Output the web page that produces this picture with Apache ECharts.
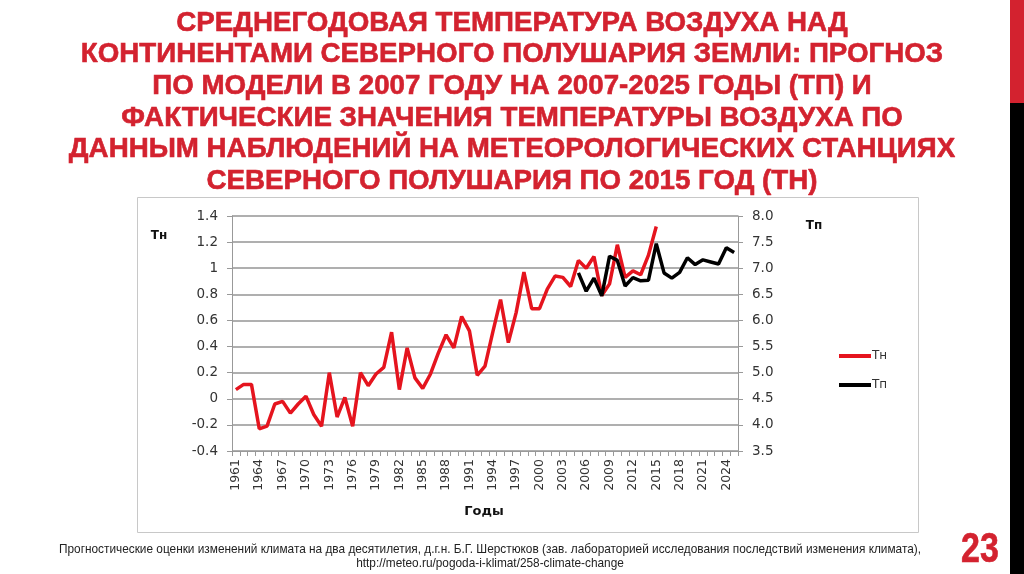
<!DOCTYPE html>
<html>
<head>
<meta charset="utf-8">
<script src="https://cdn.jsdelivr.net/npm/echarts@6/dist/echarts.min.js"></script>
<style>
html,body{margin:0;padding:0;background:#fff;}
#chart{width:1024px;height:574px;}
</style>
</head>
<body>
<div id="chart"></div>
<script>
// ---- data ----
const years = [];
for (let y = 1961; y <= 2025; y++) years.push(String(y));

const tnValues = [
  0.07, 0.11, 0.11, -0.23, -0.21, -0.04, -0.02, -0.11, -0.04, 0.02,
  -0.12, -0.21, 0.20, -0.14, 0.01, -0.21, 0.20, 0.10, 0.19, 0.24,
  0.51, 0.07, 0.39, 0.16, 0.08, 0.19, 0.35, 0.49, 0.39, 0.63,
  0.52, 0.18, 0.25, 0.51, 0.76, 0.43, 0.66, 0.97, 0.69, 0.69,
  0.84, 0.94, 0.93, 0.86, 1.06, 1.00, 1.09, 0.79, 0.88, 1.18,
  0.93, 0.98, 0.95, 1.10, 1.32
];

const tpStartYear = 2005;
const tpValues = [
  6.91, 6.56, 6.81, 6.47, 7.23, 7.15, 6.66, 6.82, 6.76, 6.77,
  7.47, 6.91, 6.81, 6.92, 7.20, 7.07, 7.16, 7.12, 7.08, 7.39, 7.30
];

const leftTicks = { min: -0.4, max: 1.4, step: 0.2 };
const rightTicks = { min: 3.5, max: 8.0, step: 0.5 };

const titleLines = [
  'СРЕДНЕГОДОВАЯ ТЕМПЕРАТУРА ВОЗДУХА НАД',
  'КОНТИНЕНТАМИ СЕВЕРНОГО ПОЛУШАРИЯ ЗЕМЛИ: ПРОГНОЗ',
  'ПО МОДЕЛИ В 2007 ГОДУ НА 2007-2025 ГОДЫ (ТП) И',
  'ФАКТИЧЕСКИЕ ЗНАЧЕНИЯ ТЕМПЕРАТУРЫ ВОЗДУХА ПО',
  'ДАННЫМ НАБЛЮДЕНИЙ НА МЕТЕОРОЛОГИЧЕСКИХ СТАНЦИЯХ',
  'СЕВЕРНОГО ПОЛУШАРИЯ ПО 2015 ГОД (ТН)'
];
const footerLines = [
  'Прогностические оценки изменений климата на два десятилетия, д.г.н. Б.Г. Шерстюков (зав. лабораторией исследования последствий изменения климата),',
  'http://meteo.ru/pogoda-i-klimat/258-climate-change'
];
const pageNumber = '23';

// build series arrays aligned to categories
const tpSeries = years.map(y => {
  const i = Number(y) - tpStartYear;
  return (i >= 0 && i < tpValues.length) ? tpValues[i] : null;
});
const tnSeries = years.map((y, i) => i < tnValues.length ? tnValues[i] : null);

const chart = echarts.init(document.getElementById('chart'), null, { renderer: 'canvas' });

const sansFont = '"Liberation Sans", Arial, sans-serif';
const red = '#d3222f';
const graphics = [];
// chart frame
graphics.push({ type: 'rect', shape: { x: 137.5, y: 197.5, width: 781, height: 335 },
  style: { fill: 'none', stroke: '#c8c8c8', lineWidth: 1 }, z: -1 });
// title
titleLines.forEach((t, i) => {
  graphics.push({ type: 'text', x: 512, y: 23 + i * 31.6, scaleX: 0.99, scaleY: 1.0,
    style: { text: t, fill: red, stroke: red, lineWidth: 0.6, font: 'bold 28px ' + sansFont,
      textAlign: 'center', textVerticalAlign: 'middle' } });
});
// footer
footerLines.forEach((t, i) => {
  graphics.push({ type: 'text', x: 490, y: 549 + i * 14, scaleX: 0.91,
    style: { text: t, fill: '#222', font: '13px ' + sansFont,
      textAlign: 'center', textVerticalAlign: 'middle' } });
});
// page number
graphics.push({ type: 'text', x: 980, y: 550, scaleX: 0.85, scaleY: 1.05,
  style: { text: pageNumber, fill: red, stroke: red, lineWidth: 0.6, font: 'bold 40px ' + sansFont,
    textAlign: 'center', textVerticalAlign: 'middle' } });
// right strip
graphics.push({ type: 'rect', shape: { x: 1010, y: 0, width: 14, height: 103 }, style: { fill: red } });
graphics.push({ type: 'rect', shape: { x: 1010, y: 103, width: 14, height: 471 }, style: { fill: '#000' } });
// axis names
graphics.push({ type: 'text', x: 159, y: 236,
  style: { text: 'Тн', fill: '#111', font: 'bold 12px "DejaVu Sans", sans-serif', textAlign: 'center', textVerticalAlign: 'middle' } });
graphics.push({ type: 'text', x: 814, y: 226,
  style: { text: 'Тп', fill: '#111', font: 'bold 12px "DejaVu Sans", sans-serif', textAlign: 'center', textVerticalAlign: 'middle' } });
graphics.push({ type: 'text', x: 484, y: 512,
  style: { text: 'Годы', fill: '#111', font: 'bold 13px "DejaVu Sans", sans-serif', textAlign: 'center', textVerticalAlign: 'middle' } });

const axisLabelStyle = { color: '#333', fontFamily: '"DejaVu Sans", Verdana, sans-serif', fontSize: 13.5 };

chart.setOption({
  animation: false,
  backgroundColor: '#fff',
  graphic: graphics,
  grid: { left: 232, right: 286, top: 216, bottom: 123 },
  legend: {
    orient: 'vertical', left: 834, top: 345, itemGap: 17,
    itemWidth: 32, itemHeight: 4, icon: 'rect',
    textStyle: { color: '#333', fontFamily: '"DejaVu Sans", sans-serif', fontSize: 12, padding: [0, 0, 0, -4] },
    data: ['Тн', 'Тп']
  },
  xAxis: {
    type: 'category', data: years, boundaryGap: true,
    axisLine: { onZero: false, lineStyle: { color: '#999', width: 1 } },
    axisTick: { show: true, interval: 0, length: 5, lineStyle: { color: '#999' } },
    axisLabel: Object.assign({}, axisLabelStyle, { fontSize: 12.5, rotate: 90, interval: 2, margin: 8 }),
    splitLine: { show: false }
  },
  yAxis: [
    {
      type: 'value', min: leftTicks.min, max: leftTicks.max, interval: leftTicks.step,
      axisLine: { show: true, lineStyle: { color: '#999' } },
      axisTick: { show: true, length: 5, lineStyle: { color: '#999' } },
      axisLabel: Object.assign({}, axisLabelStyle, { margin: 14,
        formatter: v => String(Math.round(v * 10) / 10) }),
      splitLine: { show: true, lineStyle: { color: '#959595', width: 1.5 } }
    },
    {
      type: 'value', min: rightTicks.min, max: rightTicks.max, interval: rightTicks.step,
      axisLine: { show: true, lineStyle: { color: '#999' } },
      axisTick: { show: true, length: 5, lineStyle: { color: '#999' } },
      axisLabel: Object.assign({}, axisLabelStyle, { margin: 14, formatter: v => v.toFixed(1) }),
      splitLine: { show: false }
    }
  ],
  series: [
    { name: 'Тн', type: 'line', data: tnSeries, yAxisIndex: 0, showSymbol: false, symbol: 'none',
      lineStyle: { color: '#e5141e', width: 3.5 }, itemStyle: { color: '#e5141e' }, z: 3 },
    { name: 'Тп', type: 'line', data: tpSeries, yAxisIndex: 1, showSymbol: false, symbol: 'none',
      lineStyle: { color: '#000', width: 3.5 }, itemStyle: { color: '#000' }, z: 4 }
  ]
});
</script>
</body>
</html>
